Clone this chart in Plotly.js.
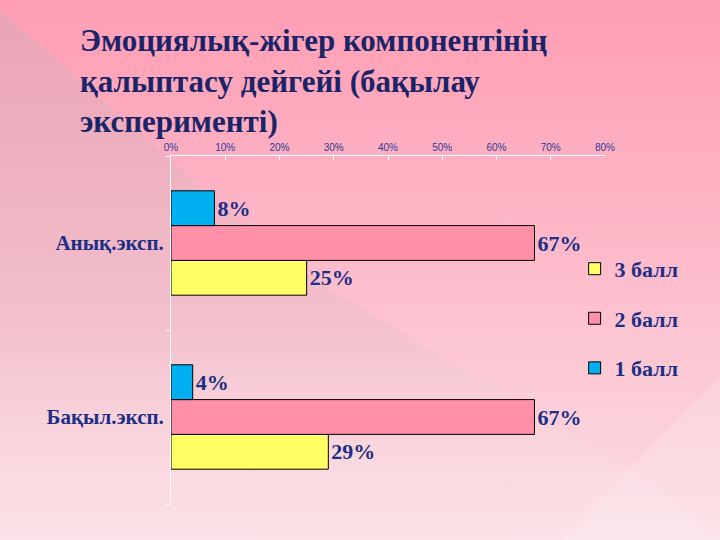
<!DOCTYPE html>
<html>
<head>
<meta charset="utf-8">
<script src="https://cdn.plot.ly/plotly-3.0.1.min.js"></script>
<style>
  html, body {
    margin: 0;
    padding: 0;
    width: 720px;
    height: 540px;
    overflow: hidden;
  }
  body {
    background: linear-gradient(to bottom, #ff9db4 0%, #fdbccb 50%, #fbdfe5 100%);
    position: relative;
  }
  #bg { position: absolute; left: 0; top: 0; }
  #myDiv { position: absolute; left: 0; top: 0; width: 720px; height: 540px; }
</style>
</head>
<body>
<!-- slide decoration behind the chart -->
<svg id="bg" width="720" height="540">
  <defs>
    <linearGradient id="greyTint" x1="0" y1="0" x2="0" y2="1">
      <stop offset="0" stop-color="#d4aab6" stop-opacity="0.5"/>
      <stop offset="0.6" stop-color="#dcbcc6" stop-opacity="0.3"/>
      <stop offset="1" stop-color="#ffffff" stop-opacity="0.1"/>
    </linearGradient>
  </defs>
  <polygon points="0,10 290,265 650,483 720,540 0,540" fill="url(#greyTint)"/>
  <polygon points="720,377 560,540 720,540" fill="#ffffff" fill-opacity="0.15"/>
</svg>
<div id="myDiv"></div>
<script>
// categories (bottom to top) and series values
var groups = ['Бақыл.эксп.', 'Анық.эксп.']
var seriesNames = ['3 балл', '2 балл', '1 балл']
var ball3 = [0.29, 0.25]
var ball2 = [0.67, 0.67]
var ball1 = [0.04, 0.08]
var tickVals = [0, 0.1, 0.2, 0.3, 0.4, 0.5, 0.6, 0.7, 0.8]
var tickText = ['0%', '10%', '20%', '30%', '40%', '50%', '60%', '70%', '80%']

var colors = ['#ffff66', '#ff90a8', '#00b0f0']
var navy = '#1c2f86'
var serif = '"Liberation Serif", "Times New Roman", serif'

var values = [ball3, ball2, ball1]
var data = []
for (let i = 0; i < values.length; i++) {
  data.push({
    type: 'bar',
    orientation: 'h',
    name: seriesNames[i],
    legendgroup: 'g' + i,
    y: groups,
    x: values[i],
    marker: {color: colors[i], line: {color: '#000000', width: 1}},
    texttemplate: '%{x:.0%}',
    textposition: 'outside',
    constraintext: 'none',
    cliponaxis: false,
    textfont: {family: serif, size: 22, color: navy, weight: 'bold'},
    hoverinfo: 'x+name'
  })
}

var layout = {
  width: 720,
  height: 540,
  paper_bgcolor: 'rgba(0,0,0,0)',
  plot_bgcolor: 'rgba(0,0,0,0)',
  margin: {l: 171, r: 115, t: 156, b: 36},
  title: {
    text: 'Эмоциялық-жігер компонентінің<br>қалыптасу дейгейі (бақылау<br>эксперименті)',
    font: {family: serif, size: 31, color: '#1a2468', weight: 'bold'},
    xref: 'container', yref: 'container',
    x: 0.111, xanchor: 'left',
    y: 0.905, yanchor: 'top'
  },
  barmode: 'group',
  bargap: 0.4,
  bargroupgap: 0,
  xaxis: {
    side: 'top',
    range: [0, 0.8],
    tickvals: tickVals,
    ticktext: tickText,
    showgrid: false,
    zeroline: false,
    showline: true,
    linecolor: '#ffffff',
    linewidth: 1,
    ticks: 'inside',
    ticklen: 4,
    tickcolor: '#ffffff',
    tickfont: {family: '"Liberation Sans Narrow", "Arial Narrow", sans-serif', size: 10, color: '#2a3a9a'},
    fixedrange: true
  },
  yaxis: {
    type: 'category',
    showgrid: false,
    zeroline: false,
    showline: true,
    linecolor: '#ffffff',
    linewidth: 1,
    ticks: 'outside',
    tickson: 'boundaries',
    ticklen: 4,
    tickcolor: '#ffffff',
    ticklabelstandoff: 2,
    tickfont: {family: serif, size: 21, color: navy, weight: 'bold'},
    fixedrange: true
  },
  showlegend: true,
  legend: {
    x: 0.93, xanchor: 'left',
    y: 0.736, yanchor: 'top',
    bgcolor: 'rgba(0,0,0,0)',
    font: {family: serif, size: 22, color: navy, weight: 'bold'},
    tracegroupgap: 18,
    itemwidth: 30,
    traceorder: 'grouped'
  }
}

Plotly.newPlot('myDiv', data, layout, {displayModeBar: false, staticPlot: true})
</script>
</body>
</html>
